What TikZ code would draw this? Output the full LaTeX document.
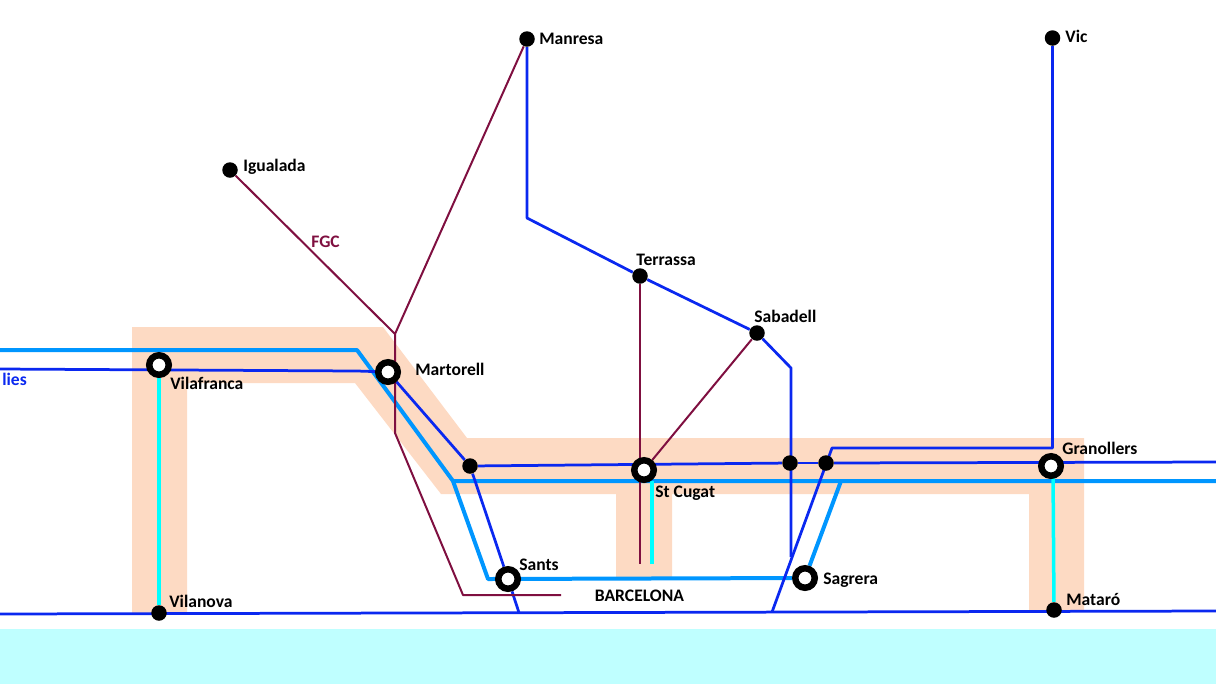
\documentclass[tikz,border=0pt]{standalone}
\usepackage{fontspec}
\setmainfont{Carlito}
\usepackage{xcolor}
\usepackage{tikz}
\usetikzlibrary{backgrounds}
\definecolor{seacol}{HTML}{BFFFFF}
\definecolor{bandcol}{HTML}{FDDAC3}
\definecolor{rodacol}{HTML}{0A28F0}
\definecolor{regcol}{HTML}{0096FF}
\definecolor{fgccol}{HTML}{7F0F40}
\definecolor{coastcol}{HTML}{00FFFF}

\begin{document}
\begin{tikzpicture}[
  x=0.02cm, y=-0.02cm,
  rodalia/.style={draw=rodacol, line width=0.055cm, line join=round},
  regional/.style={draw=regcol, line width=0.08cm, line join=round},
  fgc/.style={draw=fgccol, line width=0.04cm, line join=round},
  coastline/.style={draw=coastcol, line width=0.07cm},
  hub/.style={circle, draw=black, fill=white, line width=0.13cm, minimum size=0.39cm, inner sep=0pt},
  halt/.style={circle, fill=black, minimum size=0.31cm, inner sep=0pt},
  stname/.style={anchor=base west, inner sep=0pt, font=\fontsize{10}{12}\selectfont\bfseries},
]
  \useasboundingbox (0,0) rectangle (1216,684);

  % Stations
  \node[hub] (vilafranca) at (159,365) {};
  \node[hub] (martorell)  at (388,372) {};
  \node[hub] (stcugat)    at (644,470) {};
  \node[hub] (sants)      at (508,579) {};
  \node[hub] (sagrera)    at (805,578) {};
  \node[hub] (granollers) at (1051,466) {};
  \node[halt] (manresa)   at (527,39) {};
  \node[halt] (vic)       at (1052.5,38) {};
  \node[halt] (igualada)  at (230,170) {};
  \node[halt] (terrassa)  at (640,276) {};
  \node[halt] (sabadell)  at (757,333) {};
  \node[halt] (junca)     at (470,466) {};
  \node[halt] (juncb)     at (790,463) {};
  \node[halt] (juncc)     at (826,463) {};
  \node[halt] (vilanova)  at (159,613) {};
  \node[halt] (mataro)    at (1054,610) {};

  % Bends and free ends
  \coordinate (regw)   at (0,350);
  \coordinate (rege)   at (1216,481);
  \coordinate (regb)   at (357,350);
  \coordinate (regc)   at (453,481);
  \coordinate (regd)   at (488,579);
  \coordinate (regf)   at (841,481);
  \coordinate (rodw)   at (0,369);
  \coordinate (rodb)   at (357,371);
  \coordinate (rode)   at (1216,462);
  \coordinate (coastw) at (0,614);
  \coordinate (coaste) at (1216,611);
  \coordinate (santsc) at (519,612.7);
  \coordinate (sagc)   at (772,612.1);
  \coordinate (grana)  at (832,448);
  \coordinate (granb)  at (1052.5,448);
  \coordinate (manb)   at (527,218);
  \coordinate (sabb)   at (791,368);
  \coordinate (sabc)   at (791,557);
  \coordinate (fgca)   at (395,334);
  \coordinate (fgcb)   at (395,433);
  \coordinate (fgcc)   at (463,595);
  \coordinate (fgcd)   at (561,595);
  \coordinate (fgce)   at (640,564);
  \coordinate (cuga)   at (652,481);
  \coordinate (cugb)   at (652,564);
  \coordinate (granc)  at (1053,470);

  \begin{scope}[on background layer]
    % Sea and corridor
    \fill[seacol] (0,629) rectangle (1216,684);
    \fill[bandcol] (132,327) -- (383,327) -- (467,438) -- (1084,438) -- (1084,611)
      -- (1029,611) -- (1029,494) -- (672,494) -- (672,578) -- (616,578) -- (616,494)
      -- (441,494) -- (355,383) -- (187,383) -- (187,613) -- (132,613) -- cycle;

    % Regional lines
    \draw[regional] (regw) -- (regb) -- (regc) -- (rege);
    \draw[regional] (regc) -- (regd) -- (sagrera);
    \draw[regional] (sagrera) -- (regf);

    % Coast links
    \draw[coastline] (vilafranca) -- (vilanova);
    \draw[coastline] (cuga) -- (cugb);
    \draw[coastline] (granc) -- (mataro);

    % Rodalies
    \draw[rodalia] (rodw) -- (rodb) -- (martorell);
    \draw[rodalia] (martorell) -- (junca);
    \draw[rodalia] (junca) -- (juncb);
    \draw[rodalia] (juncb) -- (juncc);
    \draw[rodalia] (juncc) -- (rode);
    \draw[rodalia] (junca) -- (sants);
    \draw[rodalia] (sants) -- (santsc);
    \draw[rodalia] (coastw) -- (coaste);
    \draw[rodalia] (sagc) -- (grana) -- (granb) -- (vic);
    \draw[rodalia] (manresa) -- (manb) -- (terrassa);
    \draw[rodalia] (terrassa) -- (sabadell);
    \draw[rodalia] (sabadell) -- (sabb) -- (sabc);

    % FGC
    \draw[fgc] (igualada) -- (fgca) -- (manresa);
    \draw[fgc] (fgca) -- (fgcb) -- (fgcc) -- (fgcd);
    \draw[fgc] (terrassa) -- (fgce);
    \draw[fgc] (sabadell) -- (stcugat);
  \end{scope}

  % Labels
  \node[stname] (lmanresa)    at (539,44.7)   {Manresa};
  \node[stname] (lvic)        at (1065,42.7)  {Vic};
  \node[stname] (ligualada)   at (243,171.7)  {Igualada};
  \node[stname] (lterrassa)   at (636,265.7)  {Terrassa};
  \node[stname] (lsabadell)   at (754,322.7)  {Sabadell};
  \node[stname] (lmartorell)  at (415,375.7)  {Martorell};
  \node[stname] (lvilafranca) at (170,389.7)  {Vilafranca};
  \node[stname] (lvilanova)   at (169,607.7)  {Vilanova};
  \node[stname] (lstcugat)    at (655,497.7)  {St Cugat};
  \node[stname] (lsants)      at (519,570.7)  {Sants};
  \node[stname] (lsagrera)    at (823,584.7)  {Sagrera};
  \node[stname] (lgranollers) at (1062,454.7) {Granollers};
  \node[stname] (lmataro)     at (1066,605.7) {Mataró};
  \node[stname] (lbarcelona)  at (594.5,601)  {BARCELONA};
  \node[stname, text=fgccol] (lfgc) at (311,247.7) {FGC};
  \node[stname, text=rodacol] (lrod) at (2,385.5) {lies};
\end{tikzpicture}
\end{document}
